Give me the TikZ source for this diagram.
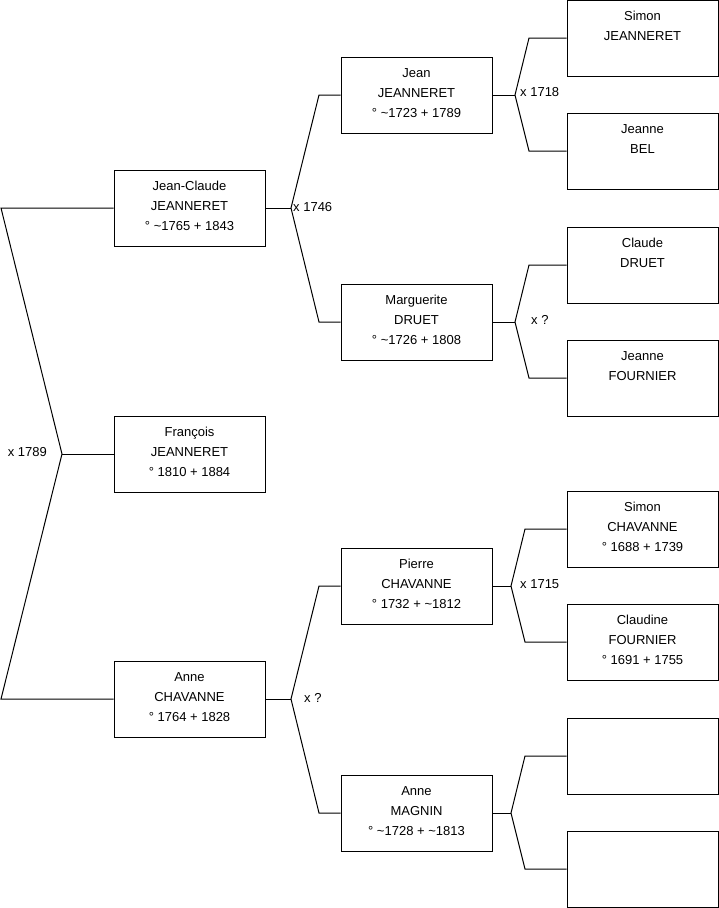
\documentclass[tikz,border=0pt]{standalone}
\usepackage{fontspec}
\setmainfont{Liberation Sans}
\newcommand{\tl}{\textasciitilde}
\newcommand{\lastln}{\strut\rule[-9pt]{0pt}{9pt}}
\begin{document}
\begin{tikzpicture}[x=1pt,y=-1pt,
  person/.style={draw=black, line width=1pt, minimum width=151pt, minimum height=76pt,
    inner sep=0pt, align=center, font=\fontsize{13}{20}\selectfont},
  link/.style={line width=1pt, line join=miter},
  mlabel/.style={font=\fontsize{13}{16}\selectfont, inner sep=0pt}]
\useasboundingbox (0,0) rectangle (719,908);

% generation 1
\node[person] (F)  at (189.5,454) {Fran\c{c}ois\strut\\JEANNERET\strut\\° 1810 + 1884\lastln};
% generation 2
\node[person] (JC) at (189.5,208) {Jean-Claude\strut\\JEANNERET\strut\\° \tl1765 + 1843\lastln};
\node[person] (AC) at (189.5,699) {Anne\strut\\CHAVANNE\strut\\° 1764 + 1828\lastln};
% generation 3
\node[person] (JE) at (416.5,95)  {Jean\strut\\JEANNERET\strut\\° \tl1723 + 1789\lastln};
\node[person] (MA) at (416.5,322) {Marguerite\strut\\DRUET\strut\\° \tl1726 + 1808\lastln};
\node[person] (PI) at (416.5,586) {Pierre\strut\\CHAVANNE\strut\\° 1732 + \tl1812\lastln};
\node[person] (AM) at (416.5,813) {Anne\strut\\MAGNIN\strut\\° \tl1728 + \tl1813\lastln};
% generation 4
\node[person] (SJ) at (642.5,38)  {Simon\strut\\JEANNERET\strut\\\lastln};
\node[person] (JB) at (642.5,151) {Jeanne\strut\\BEL\strut\\\lastln};
\node[person] (CD) at (642.5,265) {Claude\strut\\DRUET\strut\\\lastln};
\node[person] (JF) at (642.5,378) {Jeanne\strut\\FOURNIER\strut\\\lastln};
\node[person] (SC) at (642.5,529) {Simon\strut\\CHAVANNE\strut\\° 1688 + 1739\lastln};
\node[person] (CF) at (642.5,642) {Claudine\strut\\FOURNIER\strut\\° 1691 + 1755\lastln};
\node[person] (E1) at (642.5,756) {};
\node[person] (E2) at (642.5,869) {};

% bracket coordinates
\coordinate (a1) at (1,208);
\coordinate (a2) at (62,454);
\coordinate (a3) at (1,699);

\coordinate (b1) at (291,208);
\coordinate (b1u) at (319,95);
\coordinate (b1d) at (319,322);
\coordinate (b2) at (291,699);
\coordinate (b2u) at (319,586);
\coordinate (b2d) at (319,813);

\coordinate (c1) at (515,95);
\coordinate (c1u) at (529,38);
\coordinate (c1d) at (529,151);
\coordinate (c2) at (515,322);
\coordinate (c2u) at (529,265);
\coordinate (c2d) at (529,378);
\coordinate (c3) at (511,586);
\coordinate (c3u) at (525,529);
\coordinate (c3d) at (525,642);
\coordinate (c4) at (511,813);
\coordinate (c4u) at (525,756);
\coordinate (c4d) at (525,869);

% connectors
\draw[link] (JC.west) -- (a1) -- (a2) -- (a3) -- (AC.west);
\draw[link] (a2) -- (F.west);

\draw[link] (JE.west) -- (b1u) -- (b1) -- (b1d) -- (MA.west);
\draw[link] (JC.east) -- (b1);
\draw[link] (PI.west) -- (b2u) -- (b2) -- (b2d) -- (AM.west);
\draw[link] (AC.east) -- (b2);

\draw[link] (SJ.west) -- (c1u) -- (c1) -- (c1d) -- (JB.west);
\draw[link] (JE.east) -- (c1);
\draw[link] (CD.west) -- (c2u) -- (c2) -- (c2d) -- (JF.west);
\draw[link] (MA.east) -- (c2);
\draw[link] (SC.west) -- (c3u) -- (c3) -- (c3d) -- (CF.west);
\draw[link] (PI.east) -- (c3);
\draw[link] (E1.west) -- (c4u) -- (c4) -- (c4d) -- (E2.west);
\draw[link] (AM.east) -- (c4);

% marriage labels
\node[mlabel, anchor=east] (m1) at (47,452) {x 1789};
\node[mlabel, anchor=west] (m2) at (293,207) {x 1746};
\node[mlabel, anchor=west] (m3) at (520,92) {x 1718};
\node[mlabel, anchor=west] (m4) at (531,320) {x ?};
\node[mlabel, anchor=west] (m5) at (304,698) {x ?};
\node[mlabel, anchor=west] (m6) at (520,584) {x 1715};
\end{tikzpicture}
\end{document}
